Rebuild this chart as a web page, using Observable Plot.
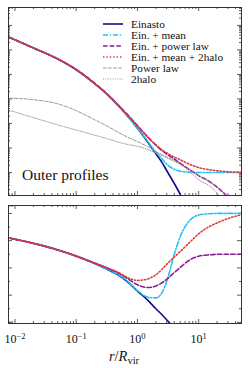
<!DOCTYPE html>
<html><head><meta charset="utf-8">
<script src="https://cdn.jsdelivr.net/npm/d3@7"></script>
<script src="https://cdn.jsdelivr.net/npm/@observablehq/plot@0.6"></script>
<style>body{margin:0;background:#fff;} svg{display:block;}</style>
</head><body><div id="chart"></div>
<script>
// radius r / R_vir (shared grid)
const r = [0.008, 0.02, 0.05, 0.1, 0.2, 0.3, 0.5, 0.7, 1, 1.5, 2, 2.5, 3, 4, 5, 7, 10, 15, 20, 30, 50];

// Top panel: log10 density (arbitrary units)
const einastoRho     = [-0.48,-0.92,-1.37,-1.81,-2.38,-2.75,-3.31,-3.72,-4.20,-4.79,-5.24,-5.58,-5.92,-6.45,-6.89,-7.65,null,null,null,null,null];
const meanRho        = [-0.48,-0.92,-1.37,-1.81,-2.38,-2.75,-3.31,-3.72,-4.19,-4.76,-5.17,-5.43,-5.66,-5.87,-5.95,-5.99,-6.0,-6.0,-6.0,-6.0,-6.0];
const powerRho       = [-0.48,-0.92,-1.37,-1.80,-2.36,-2.73,-3.28,-3.66,-4.09,-4.57,-4.89,-5.10,-5.25,-5.45,-5.63,-5.87,-6.13,-6.37,-6.60,-7.0,null];
const mean2haloRho   = [-0.48,-0.92,-1.37,-1.81,-2.38,-2.74,-3.29,-3.68,-4.10,-4.58,-4.87,-5.07,-5.20,-5.37,-5.48,-5.66,-5.80,-5.89,-5.93,-5.97,-5.99];
const powerOnlyRho   = [-2.97,-3.03,-3.20,-3.48,-3.85,-4.07,-4.38,-4.57,-4.74,-4.96,-5.15,-5.27,-5.36,-5.50,-5.66,-5.88,-6.13,-6.38,-6.60,-7.0,null];
const twoHaloOnlyRho = [-3.46,-3.76,-4.06,-4.27,-4.48,-4.60,-4.77,-4.86,-4.93,-5.07,-5.20,-5.30,-5.40,-5.55,-5.67,-5.95,-6.30,-6.55,-6.85,-7.4,null];

// Bottom panel: logarithmic slope
const einastoSlope   = [-0.90,-1.10,-1.34,-1.57,-1.84,-2.02,-2.28,-2.52,-2.85,-3.20,-3.50,-3.71,-3.90,-4.20,null,null,null,null,null,null,null];
const meanSlope      = [-0.90,-1.10,-1.34,-1.57,-1.84,-2.02,-2.27,-2.50,-2.83,-3.08,-3.10,-2.92,-2.50,-1.50,-0.85,-0.28,-0.06,-0.01,0,0,0];
const powerSlope     = [-0.90,-1.10,-1.34,-1.56,-1.82,-1.98,-2.20,-2.40,-2.62,-2.72,-2.66,-2.55,-2.42,-2.17,-1.98,-1.72,-1.57,-1.52,-1.50,-1.50,-1.50];
const mean2haloSlope = [-0.90,-1.10,-1.34,-1.56,-1.82,-1.97,-2.18,-2.36,-2.46,-2.40,-2.25,-2.06,-1.87,-1.60,-1.40,-1.08,-0.75,-0.48,-0.35,-0.19,-0.05];

const seriesNames = ["Einasto","Ein. + mean","Ein. + power law","Ein. + mean + 2halo","Power law","2halo"];
const xTickExponents = [-2,-1,0,1];
const panelLabel = "Outer profiles";

const styles = [
  {stroke:"#0c0c8c", width:1.6, dash:null},
  {stroke:"#22c4f2", width:1.6, dash:"5,1.8,1.3,1.8"},
  {stroke:"#8b1a96", width:1.6, dash:"4.5,2.2"},
  {stroke:"#e03a3a", width:1.6, dash:"1.4,2"},
  {stroke:"#8c8c8c", width:0.9, dash:"3.5,1.6"},
  {stroke:"#8c8c8c", width:0.9, dash:"1,1.4"}
];
const topSeries = [einastoRho, meanRho, powerRho, mean2haloRho, powerOnlyRho, twoHaloOnlyRho];
const bottomSeries = [einastoSlope, meanSlope, powerSlope, mean2haloSlope];

const FONT = "'Liberation Serif', 'DejaVu Serif', serif";
const W = 248;
const xDomain = [0.00783, 50.1];
const xMajor = xTickExponents.map(e => 10 ** e);
const xMinor = [];
for (const e of [-3,-2,-1,0,1]) for (let k = 2; k <= 9; k++) { const v = k * 10 ** e; if (v > xDomain[0] && v < xDomain[1]) xMinor.push(v); }
const yTopMajor = [-6,-5,-4,-3,-2,-1,0].map(e => 10 ** e);
const yTopMinor = [];
for (let e = -7; e <= 0; e++) for (let k = 2; k <= 9; k++) { const v = k * 10 ** e; if (v > 10 ** -6.94 && v < 10 ** 0.73) yTopMinor.push(v); }
const yBotMajor = [0,-1,-2,-3,-4];
const yBotMinor = [-0.5,-1.5,-2.5,-3.5];

function rows(vals) { return r.map((x, i) => ({r: x, v: vals[i]})).filter(d => d.v != null); }

function frameTicks(fw, fh, yMaj, yMin) {
  const s = {stroke: "#333", strokeWidth: 0.8};
  const L = 4, l = 2;
  return [
    Plot.tickX(xMajor, {x: d => d, insetBottom: fh - L, ...s}),
    Plot.tickX(xMajor, {x: d => d, insetTop: fh - L, ...s}),
    Plot.tickX(xMinor, {x: d => d, insetBottom: fh - l, ...s}),
    Plot.tickX(xMinor, {x: d => d, insetTop: fh - l, ...s}),
    Plot.tickY(yMaj, {y: d => d, insetRight: fw - L, ...s}),
    Plot.tickY(yMaj, {y: d => d, insetLeft: fw - L, ...s}),
    Plot.tickY(yMin, {y: d => d, insetRight: fw - l, ...s}),
    Plot.tickY(yMin, {y: d => d, insetLeft: fw - l, ...s})
  ];
}

const mL = 8, mR = 7;
const fw = W - mL - mR;

// TOP PANEL
const topH = 197, topMT = 7, topMB = 2;
const topPlot = Plot.plot({
  width: W, height: topH, marginLeft: mL, marginRight: mR, marginTop: topMT, marginBottom: topMB,
  style: {fontFamily: FONT, background: "#fff"},
  x: {type: "log", domain: xDomain, axis: null},
  y: {type: "log", domain: [10 ** -6.94, 10 ** 0.73], axis: null},
  marks: [
    ...frameTicks(fw, topH - topMT - topMB, yTopMajor, yTopMinor),
    ...topSeries.map((vals, i) => Plot.line(rows(vals), {
      x: "r", y: d => 10 ** d.v, stroke: styles[i].stroke, strokeWidth: styles[i].width,
      strokeDasharray: styles[i].dash, curve: "monotone-x", clip: true
    })),
    Plot.frame({stroke: "#333", strokeWidth: 1})
  ]
});

// legend + panel label
{
  const svg = d3.select(topPlot);
  const g = svg.append("g").attr("font-family", FONT).attr("font-size", 11.3).attr("text-anchor", "start");
  seriesNames.forEach((name, i) => {
    const y = 24 + 11 * i;
    g.append("line").attr("x1", 103).attr("x2", 123).attr("y1", y).attr("y2", y)
      .attr("stroke", styles[i].stroke).attr("stroke-width", styles[i].width)
      .attr("stroke-dasharray", styles[i].dash);
    g.append("text").attr("x", 131).attr("y", y).attr("dy", "0.35em").attr("fill", "#111")
      .attr("text-anchor", "start").text(name);
  });
  svg.append("text").attr("x", 22).attr("y", 180).attr("font-family", FONT).attr("font-size", 15.5)
    .attr("text-anchor", "start").attr("fill", "#111").text(panelLabel);
}

// BOTTOM PANEL
const botH = 171, botMT = 8, botMB = 45;
const botPlot = Plot.plot({
  width: W, height: botH, marginLeft: mL, marginRight: mR, marginTop: botMT, marginBottom: botMB,
  style: {fontFamily: FONT, background: "#fff"},
  x: {type: "log", domain: xDomain},
  y: {domain: [-4.04, 0.29], axis: null},
  marks: [
    ...frameTicks(fw, botH - botMT - botMB, yBotMajor, yBotMinor),
    ...bottomSeries.map((vals, i) => Plot.line(rows(vals), {
      x: "r", y: "v", stroke: styles[i].stroke, strokeWidth: styles[i].width,
      strokeDasharray: styles[i].dash, curve: "monotone-x", clip: true
    })),
    Plot.axisX({ticks: xMajor, tickSize: 0, tickPadding: 11, label: null, fontSize: 12,
      tickFormat: d => String(Math.round(Math.log10(d)))}),
    Plot.frame({stroke: "#333", strokeWidth: 1})
  ]
});
{
  const svg = d3.select(botPlot);
  svg.selectAll('[aria-label="x-axis tick label"] text').each(function () {
    const e = this.textContent.replace("-", "\u2212");
    const t = d3.select(this);
    t.text(null).attr("fill", "#111");
    t.append("tspan").text("10");
    t.append("tspan").attr("dy", "-0.5em").attr("font-size", "0.7em").text(e);
  });
  const lab = svg.append("text").attr("x", 124).attr("y", 164).attr("text-anchor", "middle")
    .attr("font-family", FONT).attr("font-size", 14.5).attr("fill", "#111");
  lab.append("tspan").attr("font-style", "italic").text("r");
  lab.append("tspan").text("/");
  lab.append("tspan").attr("font-style", "italic").text("R");
  lab.append("tspan").attr("dy", 3).attr("font-size", 10.5).text("vir");
}

document.getElementById("chart").append(topPlot, botPlot);
</script>
</body></html>
